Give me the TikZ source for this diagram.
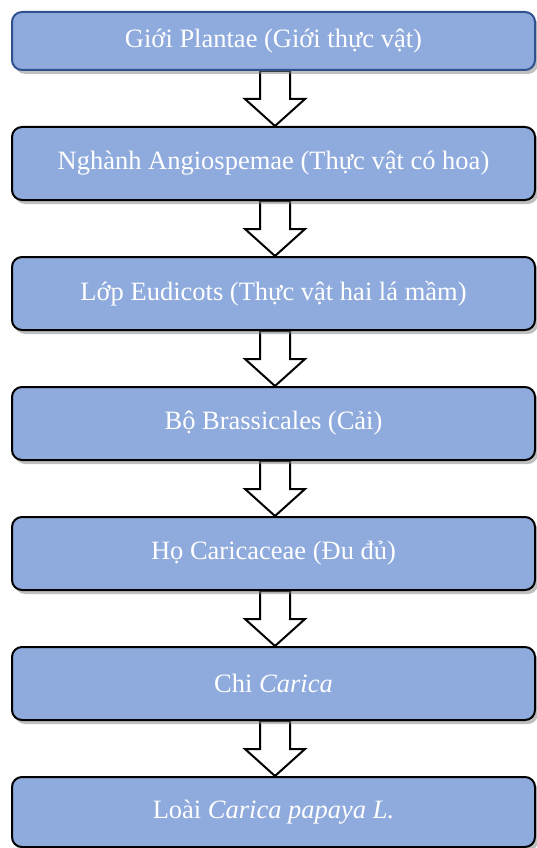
\documentclass[tikz,border=0pt]{standalone}
\usepackage{fontspec}
\setmainfont{Liberation Serif}
\usetikzlibrary{shadows,calc,backgrounds}

\definecolor{boxblue}{HTML}{8FAADC}
\definecolor{edgeblue}{HTML}{2F528F}

\tikzset{
  taxon/.style={draw=black,line width=2pt,fill=boxblue,rounded corners=10pt,
    minimum width=523pt,minimum height=73pt,inner sep=0pt,text=white,
    font=\fontsize{26.5}{30}\selectfont,
    drop shadow={shadow xshift=3pt,shadow yshift=-4pt,opacity=0.5}},
  downarrow/.style={draw=black,line width=2pt,fill=white,line join=miter}
}

\begin{document}
\begin{tikzpicture}[x=1pt,y=-1pt]
\useasboundingbox (0,0) rectangle (536,848);

\node [taxon,draw=edgeblue,minimum height=58pt] (gioi) at (273.5,41) {Giới Plantae (Giới thực vật)};
\node [taxon] (nganh) at (273.5,163.5) {Nghành Angiospemae (Thực vật có hoa)};
\node [taxon] (lop) at (273.5,293.5) {Lớp Eudicots (Thực vật hai lá mầm)};
\node [taxon] (bo) at (273.5,423.5) {Bộ Brassicales (Cải)};
\node [taxon] (ho) at (273.5,553.5) {Họ Caricaceae (Đu đủ)};
\node [taxon] (chi) at (273.5,683.5) {Chi \textit{Carica}};
\node [taxon,minimum height=70pt] (loai) at (273.5,812) {Loài \textit{Carica papaya L.}};

% block arrows between the ranks
\begin{scope}[on background layer]
\foreach \a/\b in {gioi/nganh,nganh/lop,lop/bo,bo/ho,ho/chi,chi/loai}
  \draw [downarrow] ($(\a.south)+(-13.5,0)$) -- ($(\b.north)+(-13.5,-27)$)
    -- ($(\b.north)+(-28.5,-27)$) -- ($(\b.north)+(1.5,0)$)
    -- ($(\b.north)+(31.5,-27)$) -- ($(\b.north)+(16.5,-27)$)
    -- ($(\a.south)+(16.5,0)$) -- cycle;
\end{scope}
\end{tikzpicture}
\end{document}
